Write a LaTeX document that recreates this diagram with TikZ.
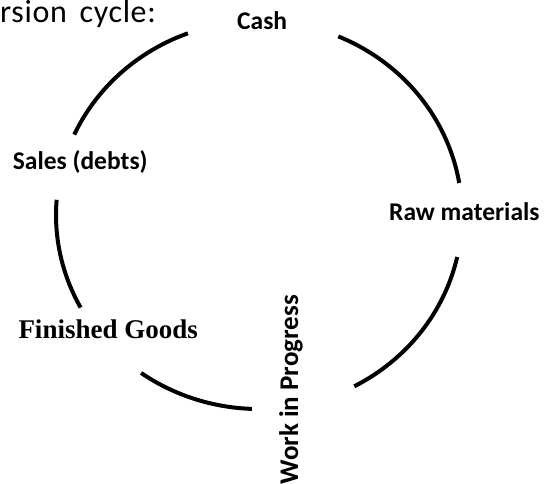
\documentclass[tikz,border=0pt]{standalone}
\usepackage{fontspec}
\setmainfont{Carlito}
\newfontfamily\goodsfont{Liberation Serif}

\begin{document}
\begin{tikzpicture}
                [x=1pt, y=1pt,
                 stage/.style={inner sep=0pt, font=\fontsize{25.5}{30}\selectfont\bfseries},
                 cyclearc/.style={line width=4pt}]
                \useasboundingbox (0,0) rectangle (546,-484);
                \node (title) [inner sep=0pt, anchor=base west, font=\fontsize{32}{36}\selectfont\addfontfeature{LetterSpace=2}] at (0,-22.7) {rsion\hspace{0.4em}cycle:};
                \node (cash) [stage, anchor=base west] at (237,-29.3) {Cash};
                \node (sales) [stage, anchor=base west] at (12.7,-169) {Sales (debts)};
                \node (raw) [stage, anchor=base west] at (389,-220) {Raw materials};
                \node (goods) [inner sep=0pt, anchor=base west, font=\fontsize{27}{32}\selectfont\goodsfont\bfseries] at (18.3,-338) {Finished Goods};
                \node (wip) [stage, font=\fontsize{27}{32}\selectfont\bfseries, rotate=90, anchor=base east] at (298,-295) {Work in Progress};
                \coordinate (o) at (259,-215);
                \draw[cyclearc] (o) ++(110.5:203 and 194) arc[start angle=110.5, end angle=155.5, x radius=203, y radius=194];
                \draw[cyclearc] (o) ++(175.5:203 and 194) arc[start angle=175.5, end angle=208.5, x radius=203, y radius=194];
                \draw[cyclearc] (o) ++(234.5:203 and 194) arc[start angle=234.5, end angle=268, x radius=203, y radius=194];
                \draw[cyclearc] (o) ++(298:203 and 194) arc[start angle=298, end angle=347.5, x radius=203, y radius=194];
                \draw[cyclearc] (o) ++(9.5:203 and 194) arc[start angle=9.5, end angle=67, x radius=203, y radius=194];
            \end{tikzpicture}
\end{document}
